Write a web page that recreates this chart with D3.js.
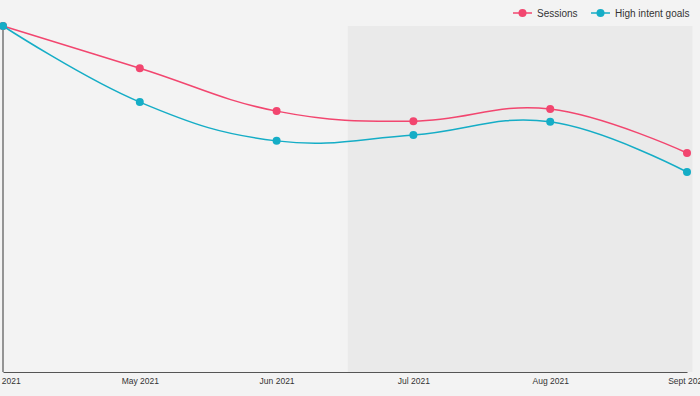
<!DOCTYPE html>
<html>
<head>
<meta charset="utf-8">
<script src="https://cdn.jsdelivr.net/npm/d3@7"></script>
<style>
  body { margin: 0; background: #f3f3f3; }
  svg { display: block; font-family: "Liberation Sans", Arial, sans-serif; }
</style>
</head>
<body>
<svg></svg>
<script>
var months = ['Apr 2021', 'May 2021', 'Jun 2021', 'Jul 2021', 'Aug 2021', 'Sept 2021'];
var sessions = [100, 87.8, 75.4, 72.5, 76.0, 63.3];
var highIntent = [100, 78.0, 66.8, 68.5, 72.3, 57.8];
var seriesNames = ['Sessions', 'High intent goals'];
var seriesColors = ['#f2466f', '#15adc6'];
// shaded band, in month index units
var bandRange = [2.52, 5.04];

var width = 700, height = 396;
var svg = d3.select('svg').attr('width', width).attr('height', height);

svg.append('rect').attr('width', width).attr('height', height).attr('fill', '#f3f3f3');

var x = d3.scaleLinear().domain([0, months.length - 1]).range([3, 687]);
var y = d3.scaleLinear().domain([0, 100]).range([372, 26]);

// shaded band
svg.append('rect')
	.attr('x', x(bandRange[0]))
	.attr('y', 26)
	.attr('width', x(bandRange[1]) - x(bandRange[0]))
	.attr('height', y(0) - 26)
	.attr('fill', '#eaeaea');

// axes
var xAxis = d3.axisBottom(x)
	.tickValues(d3.range(months.length))
	.tickFormat(function(i) { return months[i]; })
	.tickSize(0)
	.tickPadding(6);

var gx = svg.append('g').attr('transform', 'translate(0,' + y(0) + ')').call(xAxis);
gx.select('.domain').attr('stroke', '#555').attr('stroke-width', 1.2);
gx.selectAll('text').attr('font-size', 8.5).attr('fill', '#333').attr('font-family', '"Liberation Sans", Arial, sans-serif');

svg.append('line')
	.attr('x1', 3).attr('x2', 3)
	.attr('y1', 23).attr('y2', y(0))
	.attr('stroke', '#555').attr('stroke-width', 1.2);

var line = d3.line()
	.x(function(d, i) { return x(i); })
	.y(function(d) { return y(d); })
	.curve(d3.curveCardinal.tension(-0.2));

var data = [sessions, highIntent];

data.forEach(function(vals, k) {
	svg.append('path')
		.datum(vals)
		.attr('d', line)
		.attr('fill', 'none')
		.attr('stroke', seriesColors[k])
		.attr('stroke-width', 1.5);
	svg.append('g').selectAll('circle')
		.data(vals)
		.enter()
		.append('circle')
		.attr('cx', function(d, i) { return x(i); })
		.attr('cy', function(d) { return y(d); })
		.attr('r', 4)
		.attr('fill', seriesColors[k]);
});

// legend
var legendX = [513, 591];
var legend = svg.append('g');
seriesNames.forEach(function(name, i) {
	var g = legend.append('g').attr('transform', 'translate(' + legendX[i] + ',13)');
	g.append('line').attr('x1', 0).attr('x2', 19).attr('stroke', seriesColors[i]).attr('stroke-width', 1.5);
	g.append('circle').attr('cx', 9.5).attr('r', 4).attr('fill', seriesColors[i]);
	g.append('text').attr('x', 24).attr('y', 3.5).attr('font-size', 10).attr('fill', '#333').text(name);
});
</script>
</body>
</html>
